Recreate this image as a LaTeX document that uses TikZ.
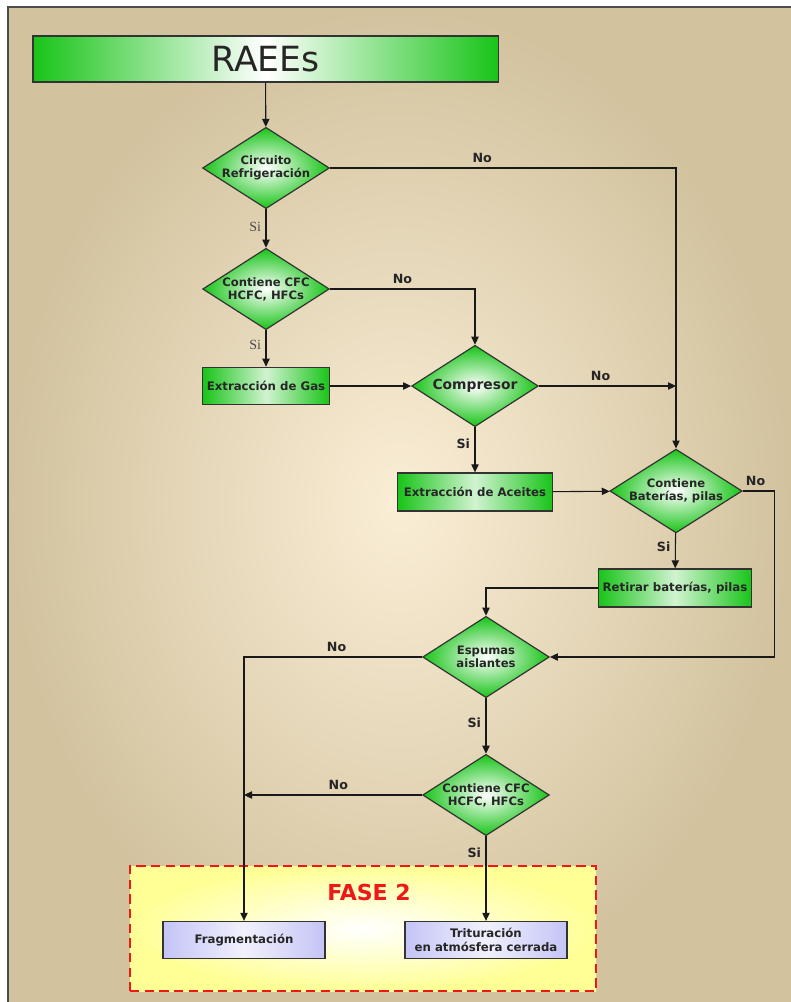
\documentclass[tikz,border=0pt]{standalone}
\usepackage{fontspec}
\setmainfont{DejaVu Sans}
\newfontfamily\siserif{Liberation Serif}
\usetikzlibrary{shapes.geometric,arrows.meta}

\definecolor{boxgreen}{RGB}{24,196,24}
\definecolor{panelin}{RGB}{250,238,214}
\definecolor{panelout}{RGB}{210,194,158}
\definecolor{lavender}{RGB}{196,196,246}
\definecolor{faseyellow}{RGB}{255,255,150}
\definecolor{fasered}{RGB}{238,24,24}

\begin{document}
\begin{tikzpicture}[x=0.75pt, y=-0.75pt,
    flow/.style={-{Triangle[length=6pt,width=5.5pt]}, line width=0.8pt, black!90},
    decision/.style={diamond, aspect=1.58, draw=black!80, line width=0.9pt, inner sep=0pt,
        minimum width=95pt, minimum height=61pt, inner color=white, outer color=boxgreen,
        align=center, font=\fontsize{8.7}{9.8}\selectfont\bfseries, text=black!85},
    greenbox/.style={rectangle, draw=black!80, line width=1pt, left color=boxgreen, right color=boxgreen,
        middle color=boxgreen!20!white, align=center, font=\fontsize{8.8}{10}\selectfont\bfseries, text=black!85},
    lavbox/.style={rectangle, draw=black!80, line width=1pt, left color=lavender, right color=lavender,
        middle color=lavender!25, align=center, font=\fontsize{8.8}{10}\selectfont\bfseries, text=black!85,
        minimum width=121.5pt, minimum height=27.75pt},
    yeslbl/.style={font=\fontsize{9.5}{10}\selectfont\bfseries, text=black!85},
    nolbl/.style={font=\fontsize{9.5}{10}\selectfont\bfseries, text=black!85},
    seriflbl/.style={font=\siserif\fontsize{10.5}{11}\selectfont, text=black!70}]

  % page and panel
  \useasboundingbox (0,0) rectangle (791,1002);
  \fill[white] (0,0) rectangle (791,1002);
  \shade[inner color=panelin, outer color=panelout] (8,7) rectangle (791,1002);
  \draw[line width=1.6pt, black!70] (8,1002) -- (8,7) -- (791,7);

  % fase 2 area
  \node[rectangle, draw=fasered, line width=2.2pt, dash pattern=on 7pt off 4pt,
        inner color=white, outer color=faseyellow,
        minimum width=349.5pt, minimum height=93.75pt] (fase) at (363,928.5) {};
  \node[font=\fontsize{16.5}{18}\selectfont\bfseries, text=fasered] (faselbl) at (369,892) {FASE 2};

  % nodes
  \node[greenbox, minimum width=349pt, minimum height=34.5pt, font=\fontsize{26}{28}\selectfont,
        middle color=white] (raees) at (265.5,59) {RAEEs};
  \node[decision] (circuito) at (266,168) {Circuito\\Refrigeración};
  \node[decision] (cfcA) at (266,289) {Contiene CFC\\HCFC, HFCs};
  \node[greenbox, minimum width=95pt, minimum height=28pt] (gas) at (266,386) {Extracción de Gas};
  \node[decision, font=\fontsize{10.4}{12}\selectfont\bfseries] (compresor) at (475,386) {Compresor};
  \node[greenbox, minimum width=116pt, minimum height=28.5pt] (aceites) at (475,492) {Extracción de Aceites};
  \node[decision] (baterias) at (676,491) {Contiene\\Baterías, pilas};
  \node[greenbox, minimum width=115pt, minimum height=28.5pt] (retirar) at (675,588) {Retirar baterías, pilas};
  \node[decision] (espumas) at (486,657) {Espumas\\aislantes};
  \node[decision] (cfcB) at (486,795) {Contiene CFC\\HCFC, HFCs};
  \node[lavbox] (fragm) at (244,940) {Fragmentación};
  \node[lavbox] (tritur) at (486,940) {Trituración\\en atmósfera cerrada};

  % connectors
  \draw[flow] (raees) -- (circuito);
  \draw[flow] (circuito) -- node[seriflbl, left, pos=0.45] {Si} (cfcA);
  \draw[flow] (circuito.east) -| node[nolbl, above, pos=0.22] {No} (baterias.north);
  \draw[flow] (cfcA) -- node[seriflbl, left, pos=0.4] {Si} (gas);
  \draw[flow] (cfcA.east) -| node[nolbl, above, pos=0.25] {No} (compresor.north);
  \draw[flow] (gas) -- (compresor);
  \draw[flow] (compresor.east) -- node[nolbl, above, pos=0.45] {No} (compresor.east -| baterias.north);
  \draw[flow] (compresor) -- node[yeslbl, left, pos=0.36] {Si} (aceites);
  \draw[flow] (aceites) -- (baterias);
  \draw[flow] (baterias.east) -- node[nolbl, above, pos=0.4] {No} ++(32,0) |- (espumas.east);
  \draw[flow] (baterias) -- node[yeslbl, left, pos=0.4] {Si} (retirar);
  \draw[flow] (retirar.west) -| (espumas.north);
  \draw[flow] (espumas.west) -| node[nolbl, above, pos=0.24] {No} (fragm.north);
  \draw[flow] (espumas) -- node[yeslbl, left, pos=0.44] {Si} (cfcB);
  \draw[flow] (cfcB.west) -- node[nolbl, above, pos=0.47] {No} (cfcB.west -| fragm.north);
  \draw[flow] (cfcB) -- node[yeslbl, left, pos=0.19] {Si} (tritur);
\end{tikzpicture}
\end{document}
